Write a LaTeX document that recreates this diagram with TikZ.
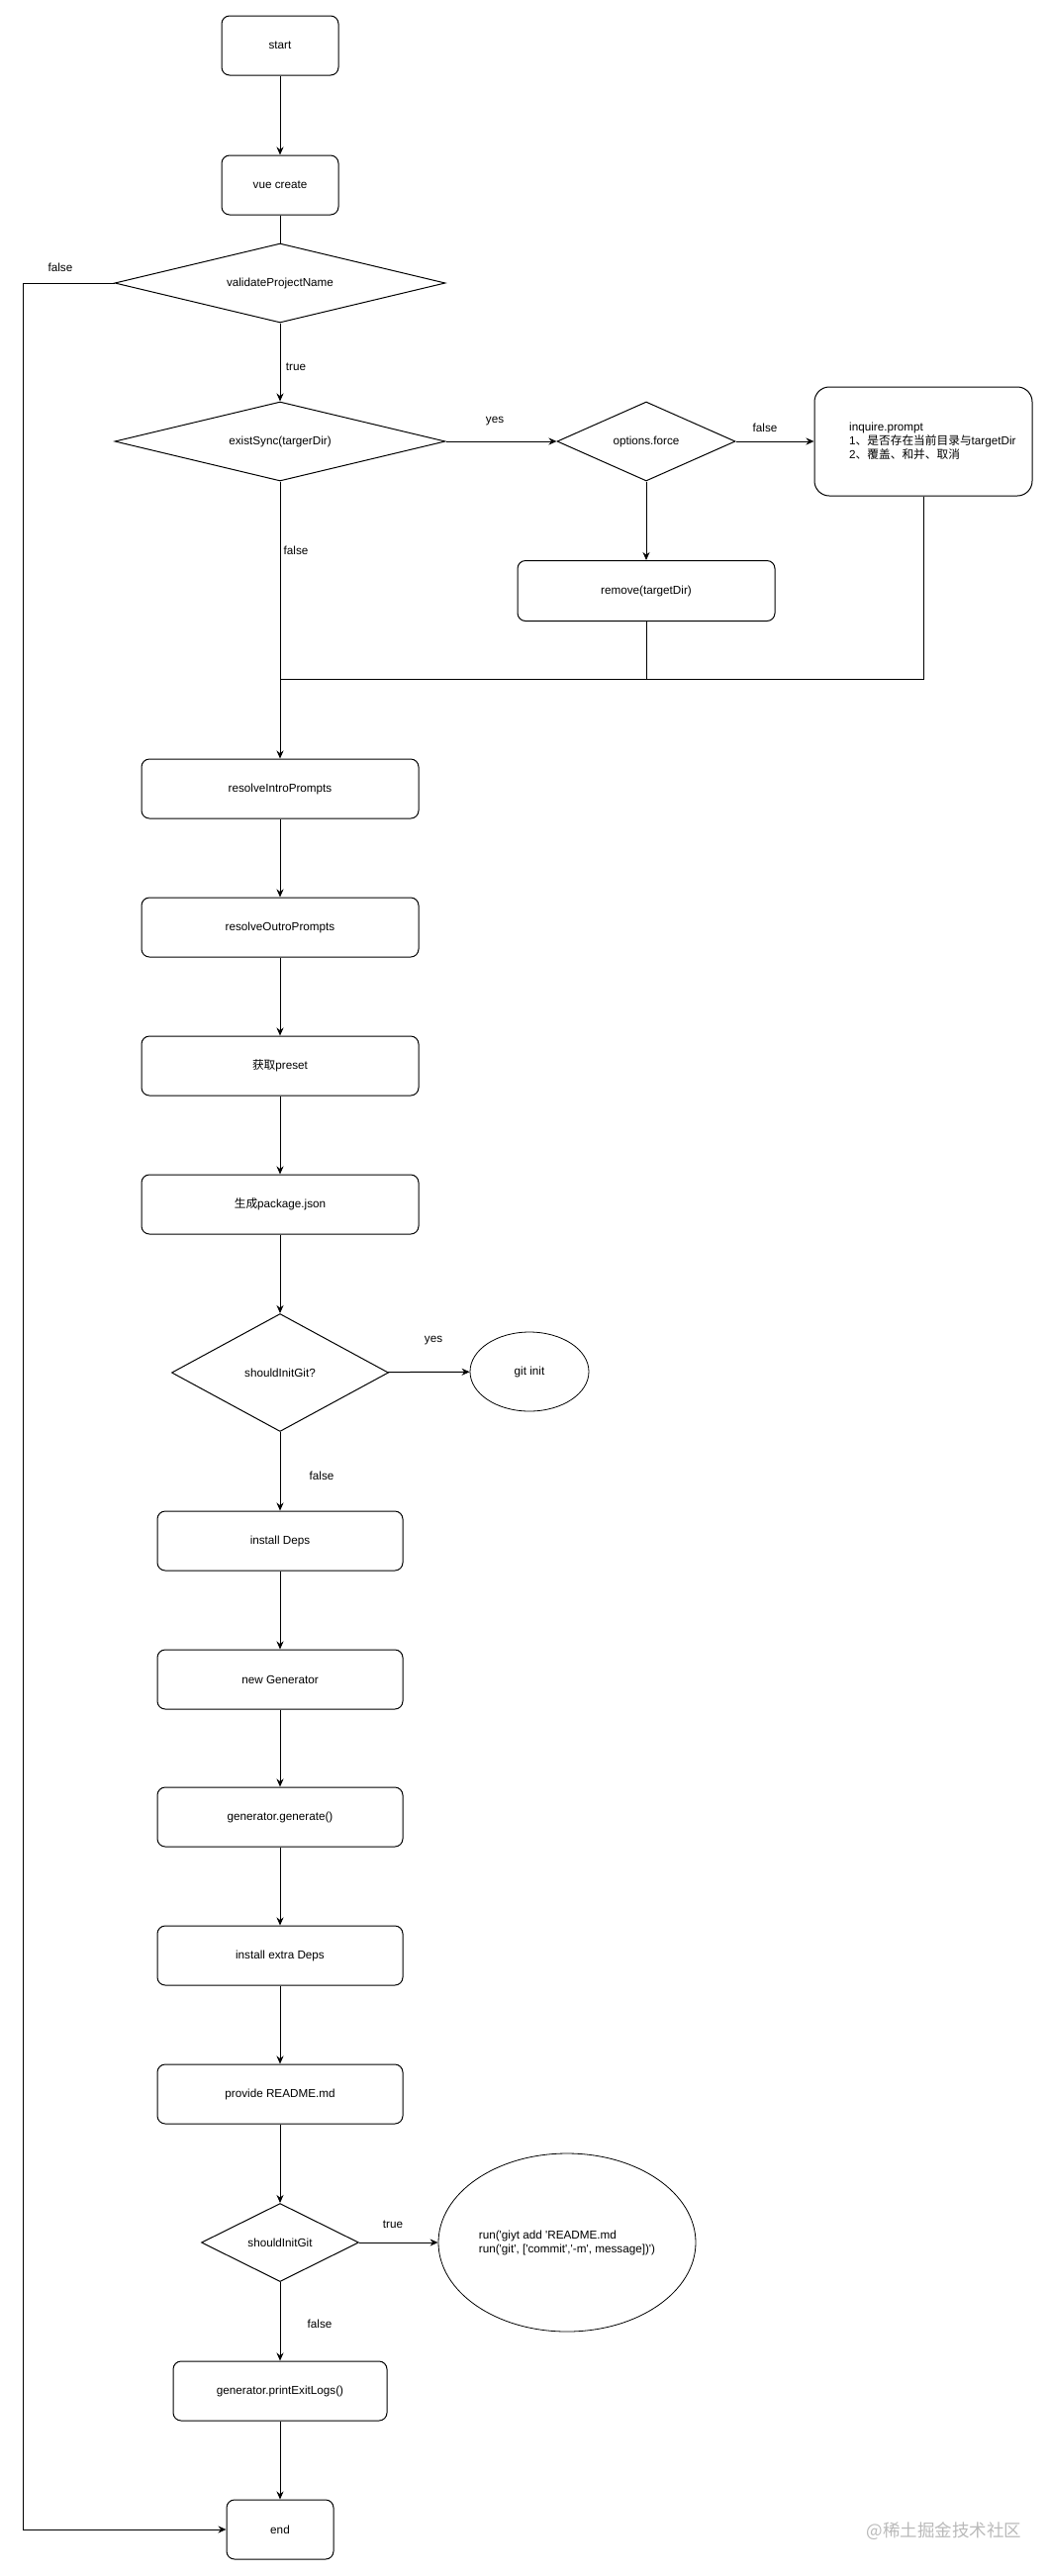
\documentclass[tikz,border=0pt]{standalone}
\usepackage{fontspec}
\newfontfamily\arial{Liberation Sans}
\newfontfamily\cjk{Noto Sans CJK SC}
\usepackage{tikz}
\usetikzlibrary{shapes.geometric,arrows.meta}
\usepackage{color}
\definecolor{fcline}{RGB}{0,0,0}
\definecolor{fcmark}{RGB}{185,185,185}

\begin{document}
\begin{tikzpicture}[x=1pt, y=-1pt,
  font=\arial\fontsize{11.7}{14}\selectfont,
  box/.style={draw=fcline, line width=1pt, rounded corners=8pt, minimum width=280pt, minimum height=60pt, inner sep=0pt},
  decision/.style={draw=fcline, line width=1pt, diamond, inner sep=0pt},
  oval/.style={draw=fcline, line width=0.8pt, ellipse, inner sep=0pt},
  arr/.style={fcline, line width=1pt, -{Stealth[length=8pt, width=7pt]}},
  lbl/.style={inner sep=0pt}]
  \useasboundingbox (0,0) rectangle (1060,2603);

  % Top
  \node[box, minimum width=118pt] (start) at (283,46) {start};
  \node[box, minimum width=118pt] (vue) at (283,187) {vue create};
  \node[decision, aspect=4.2, minimum width=334pt, minimum height=80pt] (validate) at (283,286) {validateProjectName};
  \node[decision, aspect=4.2, minimum width=334pt, minimum height=80pt] (exist) at (283,446) {existSync(targerDir)};
  \node[decision, aspect=2.2, minimum width=180pt, minimum height=80pt] (force) at (653,446) {options.force};
  \node[box, minimum width=220pt, minimum height=110pt, rounded corners=15pt] (inquire) at (933,446) {};
  \node[anchor=west, align=left, inner sep=0pt] (inquiretxt) at (858,446) {inquire.prompt\\1{\cjk 、是否存在当前目录与}targetDir\\2{\cjk 、覆盖、和并、取消}};
  \node[box, minimum width=260pt, minimum height=61pt] (remove) at (653,597) {remove(targetDir)};
  \coordinate (merge) at (283,686);

  % Main column
  \node[box] (intro) at (283,797) {resolveIntroPrompts};
  \node[box] (outro) at (283,937) {resolveOutroPrompts};
  \node[box] (preset) at (283,1077) {{\cjk 获取}preset};
  \node[box] (pkg) at (283,1217) {{\cjk 生成}package.json};
  \node[decision, aspect=1.84, minimum width=219pt, minimum height=119pt] (gitq) at (283,1387) {shouldInitGit?};
  \node[oval, minimum width=120pt, minimum height=80pt] (gitinit) at (535,1386) {git init};
  \node[box, minimum width=248pt] (deps) at (283,1557) {install Deps};
  \node[box, minimum width=248pt] (gen) at (283,1697) {new Generator};
  \node[box, minimum width=248pt] (generate) at (283,1836) {generator.generate()};
  \node[box, minimum width=248pt] (extra) at (283,1976) {install extra Deps};
  \node[box, minimum width=248pt] (readme) at (283,2116) {provide README.md};
  \node[decision, aspect=2, minimum width=159pt, minimum height=79pt] (gitq2) at (283,2266) {shouldInitGit};
  \node[oval, minimum width=260pt, minimum height=180pt, align=left] (run) at (573,2266) {run('giyt add 'README.md\\run('git', ['commit','-m', message])')};
  \node[box, minimum width=216pt] (logs) at (283,2416) {generator.printExitLogs()};
  \node[box, minimum width=108pt] (end) at (283,2556) {end};
  \coordinate (rail) at (23,2556);

  % Labels
  \node[lbl] (lfalsea) at (61,270) {false};
  \node[lbl] (ltruea) at (299,371) {true};
  \node[lbl] (lyesa) at (500,426) {yes};
  \node[lbl] (lfalseb) at (773,432) {false};
  \node[lbl] (lfalsec) at (299,556) {false};
  \node[lbl] (lyesb) at (438,1355) {yes};
  \node[lbl] (lfalsed) at (325,1491) {false};
  \node[lbl] (ltrueb) at (397,2248) {true};
  \node[lbl] (lfalsee) at (323,2348) {false};
  \node[text=fcmark, font=\cjk\fontsize{17.5}{20}\selectfont, inner sep=0pt] (mark) at (954,2558) {@稀土掘金技术社区};

  % Connectors
  \draw[arr] (start) -- (vue);
  \draw[fcline, line width=1pt] (vue) -- (validate);
  \draw[arr] (validate) -- (exist);
  \draw[arr] (validate.west) -| (rail) -- (end);
  \draw[arr] (exist) -- (force);
  \draw[arr] (force) -- (inquire);
  \draw[arr] (force) -- (remove);
  \draw[fcline, line width=1pt] (remove) |- (merge);
  \draw[fcline, line width=1pt] (inquire) |- (merge);
  \draw[arr] (exist) -- (intro);
  \foreach \a/\b in {intro/outro, outro/preset, preset/pkg, pkg/gitq, deps/gen, gen/generate, generate/extra, extra/readme, readme/gitq2, logs/end}
    \draw[arr] (\a) -- (\b);
  \draw[arr] (gitq) -- (gitinit);
  \draw[arr] (gitq) -- (deps);
  \draw[arr] (gitq2) -- (run);
  \draw[arr] (gitq2) -- (logs);
\end{tikzpicture}
\end{document}
